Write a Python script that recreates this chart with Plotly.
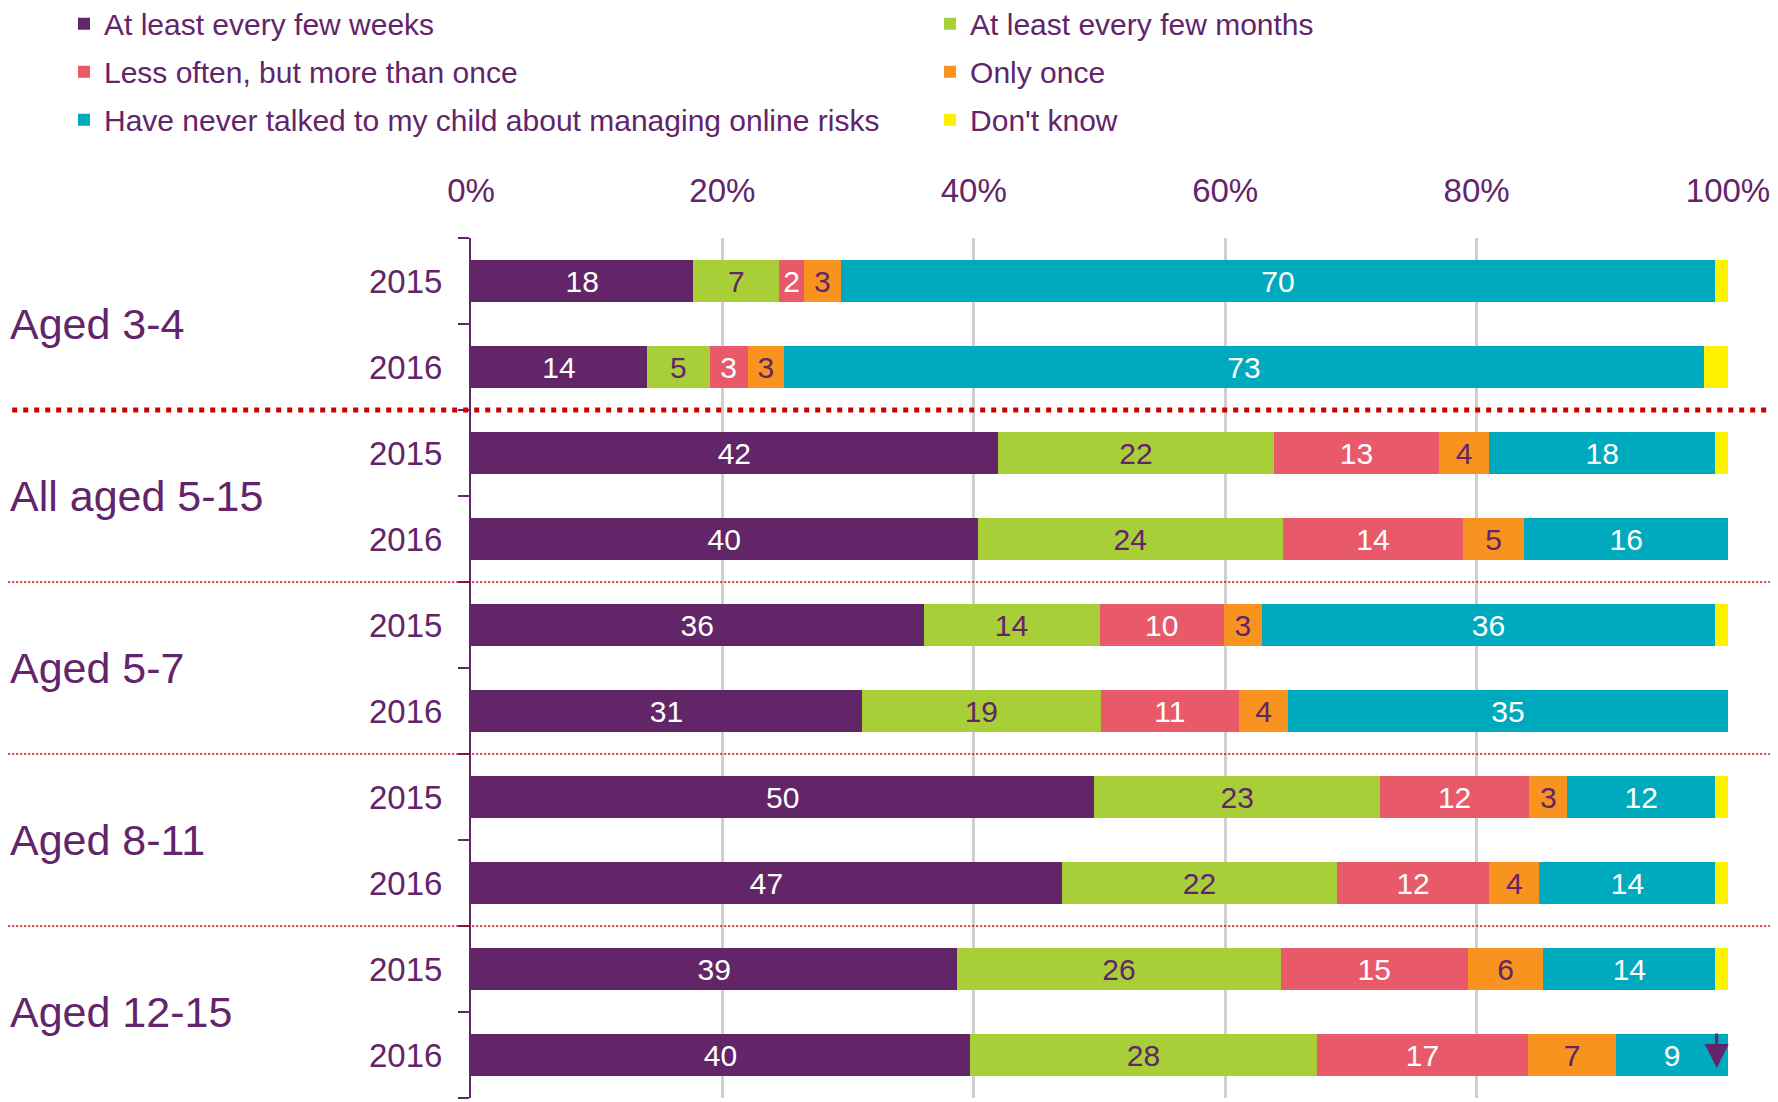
import plotly.graph_objects as go

groups = ["Aged 3-4", "All aged 5-15", "Aged 5-7", "Aged 8-11", "Aged 12-15"]
years = ["2015", "2016"]
row_ids = [f"{g}|{y}" for g in groups for y in years]
row_years = [y for g in groups for y in years]

series_names = [
    "At least every few weeks",
    "At least every few months",
    "Less often, but more than once",
    "Only once",
    "Have never talked to my child about managing online risks",
    "Don't know",
]
weeks = [17.7, 14.0, 41.9, 40.3, 36.0, 31.1, 49.6, 47.0, 38.7, 39.7]
months = [6.8, 5.0, 22.0, 24.3, 14.0, 19.0, 22.7, 21.9, 25.7, 27.6]
less_often = [2.0, 3.0, 13.1, 14.3, 9.9, 11.0, 11.9, 12.1, 14.9, 16.8]
only_once = [2.9, 2.9, 4.0, 4.9, 3.0, 3.9, 3.0, 4.0, 6.0, 7.0]
never = [69.6, 73.2, 18.0, 16.2, 36.1, 35.0, 11.8, 14.0, 13.7, 8.9]
dont_know = [1.0, 1.9, 1.0, 0.0, 1.0, 0.0, 1.0, 1.0, 1.0, 0.0]
series_values = [weeks, months, less_often, only_once, never, dont_know]

x_tickvals = [0, 20, 40, 60, 80, 100]
x_ticktext = ["0%", "20%", "40%", "60%", "80%", "100%"]

colors = ["#622567", "#A8CF38", "#E8596A", "#F7931E", "#00AABE", "#FFF200"]
PURPLE = "#62246A"
text_colors = ["white", PURPLE, "white", PURPLE, "white", PURPLE]
legend_ids = ["legend", "legend2", "legend", "legend2", "legend", "legend2"]
FONT = "Liberation Sans, Arial, sans-serif"

fig = go.Figure()
for i, (name, vals, col, tc) in enumerate(zip(series_names, series_values, colors, text_colors)):
    fig.add_trace(go.Bar(
        y=row_ids, x=vals, name=name, orientation="h",
        marker=dict(color=col, line=dict(width=0)),
        texttemplate="%{x:.0f}" if name != "Don't know" else "",
        textposition="inside", insidetextanchor="middle",
        textfont=dict(color=tc, size=30, family=FONT),
        hoverinfo="skip",
        legend=legend_ids[i], legendgroup=f"g{i}",
    ))

shapes = []
for i, b in enumerate([1.5, 3.5, 5.5, 7.5]):
    shapes.append(dict(
        type="line", xref="paper", yref="y", x0=-0.4, x1=1.06, y0=b, y1=b,
        line=dict(color="#CC0000", width=5 if i == 0 else 1.6,
                  dash="5px,6px" if i == 0 else "2px,2px"),
        layer="above",
    ))

annotations = []
for i, g in enumerate(groups):
    annotations.append(dict(
        text=g, xref="paper", yref="y", x=-0.368, y=2 * i + 0.5,
        xanchor="left", yanchor="middle", showarrow=False,
        font=dict(size=43, color=PURPLE, family=FONT),
    ))
annotations.append(dict(
    text="", x=99.1, y=9, xref="x", yref="y", showarrow=True,
    ax=0, ay=-36, arrowhead=2, arrowsize=1.6, arrowwidth=3,
    arrowcolor="#62246A", yshift=-13,
))

legend_common = dict(
    orientation="v", yanchor="top", xanchor="left",
    font=dict(size=30, color=PURPLE, family=FONT),
    tracegroupgap=6, bgcolor="rgba(0,0,0,0)", traceorder="grouped",
)

fig.update_layout(
    barmode="stack", bargap=0.51,
    width=1770, height=1094,
    margin=dict(l=463, r=50, t=230, b=4, autoexpand=False),
    plot_bgcolor="white", paper_bgcolor="white",
    font=dict(family=FONT, color=PURPLE),
    shapes=shapes, annotations=annotations,
    legend=dict(x=-0.3238, y=1.2795, **legend_common),
    legend2=dict(x=0.3652, y=1.2795, **legend_common),
    uniformtext=dict(mode="show", minsize=30),
    xaxis=dict(
        side="top", range=[0, 100], tickmode="array", tickvals=x_tickvals,
        ticktext=x_ticktext, showgrid=True, gridcolor="#D0D0D0", gridwidth=3,
        zeroline=False, showline=False, ticks="",
        tickfont=dict(size=33, color=PURPLE), ticklabelstandoff=28,
    ),
    yaxis=dict(
        type="category", categoryorder="array", categoryarray=row_ids,
        autorange="reversed", tickmode="array", tickvals=row_ids,
        ticktext=row_years, tickson="boundaries", ticks="outside",
        ticklen=11, tickwidth=2, tickcolor=PURPLE, showline=True,
        linecolor=PURPLE, linewidth=2, showgrid=False,
        tickfont=dict(size=33, color=PURPLE), ticklabelstandoff=20,
    ),
)

fig.write_html("out.html")
